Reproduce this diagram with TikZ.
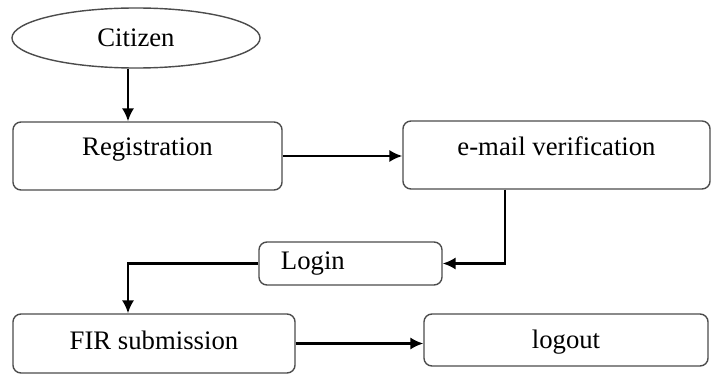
\documentclass[tikz,border=0pt]{standalone}
\usepackage{fontspec}
\setmainfont{Liberation Serif}
\usetikzlibrary{arrows.meta,shapes.geometric}

\begin{document}
\begin{tikzpicture}[x=0.025cm,y=-0.025cm,
    every node/.style={font=\fontsize{19}{22}\selectfont},
    flowbox/.style={draw=black!70,line width=1pt,rounded corners=0.2cm,inner sep=0pt,text height=13pt,text depth=4.5pt},
    upper/.style={text depth=13pt},
    flow/.style={line width=1.5pt,-{Latex[length=0.32cm,width=0.3cm]}}]
  \useasboundingbox (0,0) rectangle (712,374);
  % actor and steps
  \node[draw=black!70,line width=1pt,ellipse,minimum width=6.2cm,minimum height=1.5cm,inner sep=0pt] (citizen) at (136,38) {Citizen};
  \node[flowbox,upper,minimum width=6.725cm,minimum height=1.7cm] (reg) at (147.5,156) {Registration};
  \node[flowbox,upper,minimum width=7.675cm,minimum height=1.7cm] (email) at (556.5,155) {e-mail verification};
  \node[flowbox,minimum height=1.075cm,text width=3.475cm,inner xsep=0.55cm,align=left] (login) at (350.5,263.5) {Login};
  \node[flowbox,text depth=5pt,minimum width=7.05cm,minimum height=1.475cm] (fir) at (154,343.5) {FIR submission};
  \node[flowbox,text depth=1.5pt,minimum width=7.1cm,minimum height=1.3cm] (logout) at (566,340) {logout};
  % connectors
  \coordinate (lane) at (128,0);
  \coordinate (drop) at (505,0);
  \draw[flow] (citizen.south -| lane) -- (reg.north -| lane);
  \draw[flow] (reg.east) -- (reg.east -| email.west);
  \draw[flow] (email.south -| drop) |- (login.east);
  \draw[flow] (login.west) -| (fir.north -| lane);
  \draw[flow] (fir.east) -- (fir.east -| logout.west);
\end{tikzpicture}
\end{document}
